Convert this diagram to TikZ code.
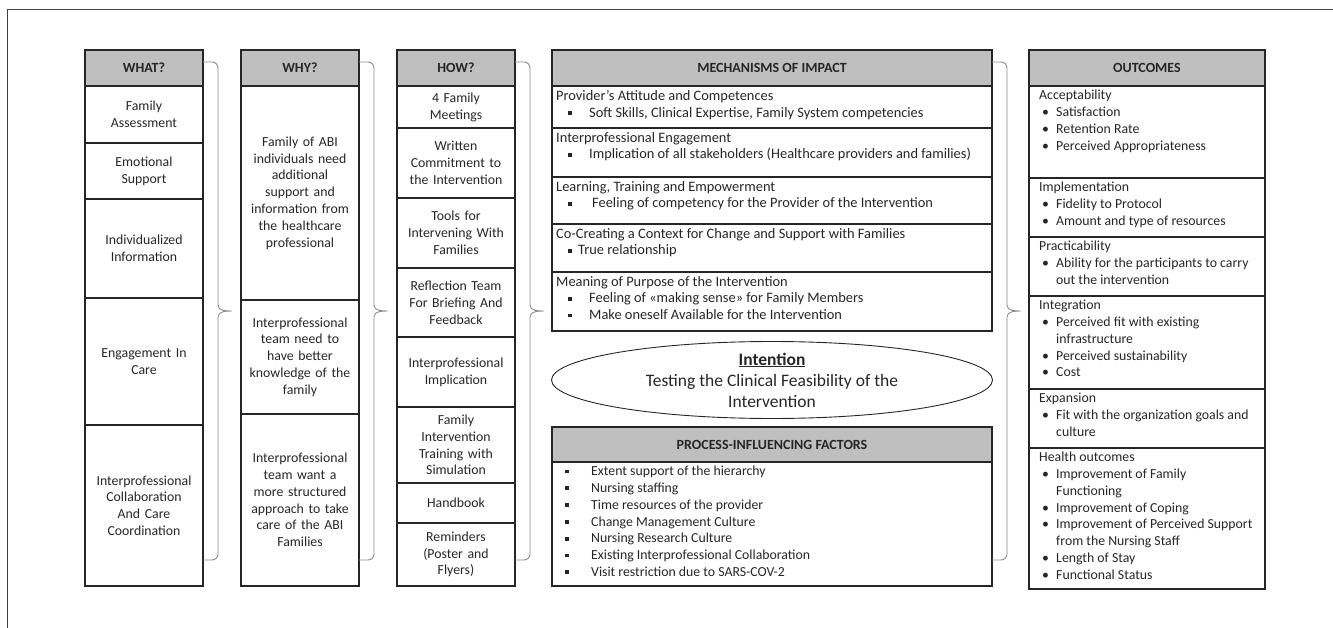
\documentclass[tikz,border=0pt]{standalone}
\usepackage{fontspec}
\setmainfont{Carlito}
\usepackage{tikz}
\usetikzlibrary{positioning,shapes.geometric}
\definecolor{ink}{HTML}{262626}
\definecolor{headgray}{HTML}{BFBFBF}
\definecolor{bracegray}{HTML}{8C8C8C}
\definecolor{framegray}{HTML}{404040}
\newcommand{\sqb}{\raisebox{2.4pt}{\rule{3.8pt}{3.8pt}}}
\newcommand{\mitem}[1]{\hspace*{12pt}\makebox[21pt][l]{\sqb}#1}
\newcommand{\pitem}[1]{\hspace*{9pt}\makebox[26pt][l]{\sqb}#1}
\newcommand{\oitem}[1]{\hspace*{3pt}\makebox[14pt][l]{\textbullet}#1}
\newcommand{\ocont}[1]{\hspace*{17pt}#1}
\tikzset{
  box/.style={rectangle,draw=ink,line width=1.1pt,outer sep=0pt,inner sep=0pt,text=ink},
  head/.style={box,fill=headgray,minimum height=36pt,font=\fontsize{14}{16}\selectfont\bfseries},
  cell/.style={box,minimum width=118pt,text width=112pt,align=center,
               font=\fontsize{13.8}{16.8}\selectfont},
  row/.style={box,minimum width=440pt},
  orow/.style={box,minimum width=236pt},
  rowtext/.style={anchor=north west,inner xsep=4pt,inner ysep=4pt,align=left,text=ink,
                  font=\fontsize{13.8}{16.8}\selectfont},
  mechtext/.style={rowtext,font=\fontsize{14.4}{16.8}\selectfont},
  outtext/.style={rowtext,inner xsep=10pt},
  intent/.style={ellipse,draw=ink,line width=0.9pt,minimum width=441pt,minimum height=65pt,
                 inner sep=0pt,align=center,text=ink,font=\fontsize{17.5}{21}\selectfont},
  brace/.style={draw=bracegray,line width=0.9pt},
  frame/.style={draw=framegray,line width=1pt}
}
\begin{document}
\begin{tikzpicture}[x=1pt,y=-1pt]
  \useasboundingbox (0,0) rectangle (1333,628);
  \draw[frame] (7,628) -- (7,10) -- (1333,10);

  % WHAT?
  \node[head,minimum width=118pt,anchor=north west] (what) at (85,50) {WHAT?};
  \node[cell,below=0pt of what,minimum height=57pt] (what1) {Family\\Assessment};
  \node[cell,below=0pt of what1,minimum height=56pt] (what2) {Emotional\\Support};
  \node[cell,below=0pt of what2,minimum height=99pt] (what3) {Individualized\\Information};
  \node[cell,below=0pt of what3,minimum height=127pt] (what4) {Engagement In\\Care};
  \node[cell,below=0pt of what4,minimum height=161pt] (what5) {Interprofessional\\Collaboration\\And Care\\Coordination};

  % WHY?
  \node[head,minimum width=118pt,anchor=north west] (why) at (241,50) {WHY?};
  \node[cell,below=0pt of why,minimum height=214pt] (why1) {Family of ABI\\individuals need\\additional\\support and\\information from\\the healthcare\\professional};
  \node[cell,below=0pt of why1,minimum height=114pt] (why2) {Interprofessional\\team need to\\have better\\knowledge of the\\family};
  \node[cell,below=0pt of why2,minimum height=172pt] (why3) {Interprofessional\\team want a\\more structured\\approach to take\\care of the ABI\\Families};

  % HOW?
  \node[head,minimum width=118pt,anchor=north west] (how) at (397,50) {HOW?};
  \node[cell,below=0pt of how,minimum height=42pt] (how1) {4 Family\\Meetings};
  \node[cell,below=0pt of how1,minimum height=70pt] (how2) {Written\\Commitment to\\the Intervention};
  \node[cell,below=0pt of how2,minimum height=70pt] (how3) {Tools for\\Intervening With\\Families};
  \node[cell,below=0pt of how3,minimum height=69pt] (how4) {Reflection Team\\For Briefing And\\Feedback};
  \node[cell,below=0pt of how4,minimum height=70pt] (how5) {Interprofessional\\Implication};
  \node[cell,below=0pt of how5,minimum height=76pt] (how6) {Family\\Intervention\\Training with\\Simulation};
  \node[cell,below=0pt of how6,minimum height=40pt] (how7) {Handbook};
  \node[cell,below=0pt of how7,minimum height=63pt] (how8) {Reminders\\(Poster and\\Flyers)};

  % mechanisms of impact
  \node[head,minimum width=440pt,anchor=north west] (mech) at (552,50) {MECHANISMS OF IMPACT};
  \node[row,below=0pt of mech,minimum height=42pt] (mech1) {};
  \node[row,below=0pt of mech1,minimum height=49pt] (mech2) {};
  \node[row,below=0pt of mech2,minimum height=47pt] (mech3) {};
  \node[row,below=0pt of mech3,minimum height=48pt] (mech4) {};
  \node[row,below=0pt of mech4,minimum height=59pt] (mech5) {};
  \node[mechtext] (mech1t) at (mech1.north west) {Provider’s Attitude and Competences\\
    \mitem{Soft Skills, Clinical Expertise, Family System competencies}};
  \node[mechtext] (mech2t) at (mech2.north west) {Interprofessional Engagement\\
    \mitem{Implication of all stakeholders (Healthcare providers and families)}};
  \node[mechtext] (mech3t) at (mech3.north west) {Learning, Training and Empowerment\\
    \hspace*{12pt}\makebox[24pt][l]{\sqb}Feeling of competency for the Provider of the Intervention};
  \node[mechtext] (mech4t) at (mech4.north west) {Co-Creating a Context for Change and Support with Families\\
    \hspace*{12pt}\makebox[10pt][l]{\sqb}True relationship};
  \node[mechtext] (mech5t) at (mech5.north west) {Meaning of Purpose of the Intervention\\
    \mitem{Feeling of «making sense» for Family Members}\\
    \mitem{Make oneself Available for the Intervention}};

  % intention
  \node[intent] (intent) at (772,380) {\textbf{\underline{Intention}}\\Testing the Clinical Feasibility of the\\Intervention};

  % process-influencing factors
  \node[head,minimum width=440pt,minimum height=35pt,anchor=north west] (proc) at (552,427) {PROCESS-INFLUENCING FACTORS};
  \node[row,below=0pt of proc,minimum height=124pt] (proc1) {};
  \node[rowtext] (proc1t) at (proc1.north west) {\pitem{Extent support of the hierarchy}\\
    \pitem{Nursing staffing}\\
    \pitem{Time resources of the provider}\\
    \pitem{Change Management Culture}\\
    \pitem{Nursing Research Culture}\\
    \pitem{Existing Interprofessional Collaboration}\\
    \pitem{Visit restriction due to SARS-COV-2}};

  % outcomes
  \node[head,minimum width=236pt,anchor=north west] (outc) at (1029,50) {OUTCOMES};
  \node[orow,below=0pt of outc,minimum height=92pt] (outc1) {};
  \node[orow,below=0pt of outc1,minimum height=59pt] (outc2) {};
  \node[orow,below=0pt of outc2,minimum height=59pt] (outc3) {};
  \node[orow,below=0pt of outc3,minimum height=93pt] (outc4) {};
  \node[orow,below=0pt of outc4,minimum height=59pt] (outc5) {};
  \node[orow,below=0pt of outc5,minimum height=141pt] (outc6) {};
  \node[outtext] (outc1t) at (outc1.north west) {Acceptability\\
    \oitem{Satisfaction}\\ \oitem{Retention Rate}\\ \oitem{Perceived Appropriateness}};
  \node[outtext] (outc2t) at (outc2.north west) {Implementation\\
    \oitem{Fidelity to Protocol}\\ \oitem{Amount and type of resources}};
  \node[outtext] (outc3t) at (outc3.north west) {Practicability\\
    \oitem{Ability for the participants to carry}\\ \ocont{out the intervention}};
  \node[outtext] (outc4t) at (outc4.north west) {Integration\\
    \oitem{Perceived fit with existing}\\ \ocont{infrastructure}\\
    \oitem{Perceived sustainability}\\ \oitem{Cost}};
  \node[outtext] (outc5t) at (outc5.north west) {Expansion\\
    \oitem{Fit with the organization goals and}\\ \ocont{culture}};
  \node[outtext] (outc6t) at (outc6.north west) {Health outcomes\\
    \oitem{Improvement of Family}\\ \ocont{Functioning}\\
    \oitem{Improvement of Coping}\\
    \oitem{Improvement of Perceived Support}\\ \ocont{from the Nursing Staff}\\
    \oitem{Length of Stay}\\ \oitem{Functional Status}};

  % braces between the columns
  \foreach \bx in {203,359,515,992}
    \draw[brace] (\bx,62) -- (\bx+9,62) to[out=0,in=90] (\bx+15,68) -- (\bx+15,305)
      to[out=-90,in=180] (\bx+29,311) to[out=180,in=90] (\bx+15,317) -- (\bx+15,554)
      to[out=-90,in=0] (\bx+9,560) -- (\bx,560);
\end{tikzpicture}
\end{document}
